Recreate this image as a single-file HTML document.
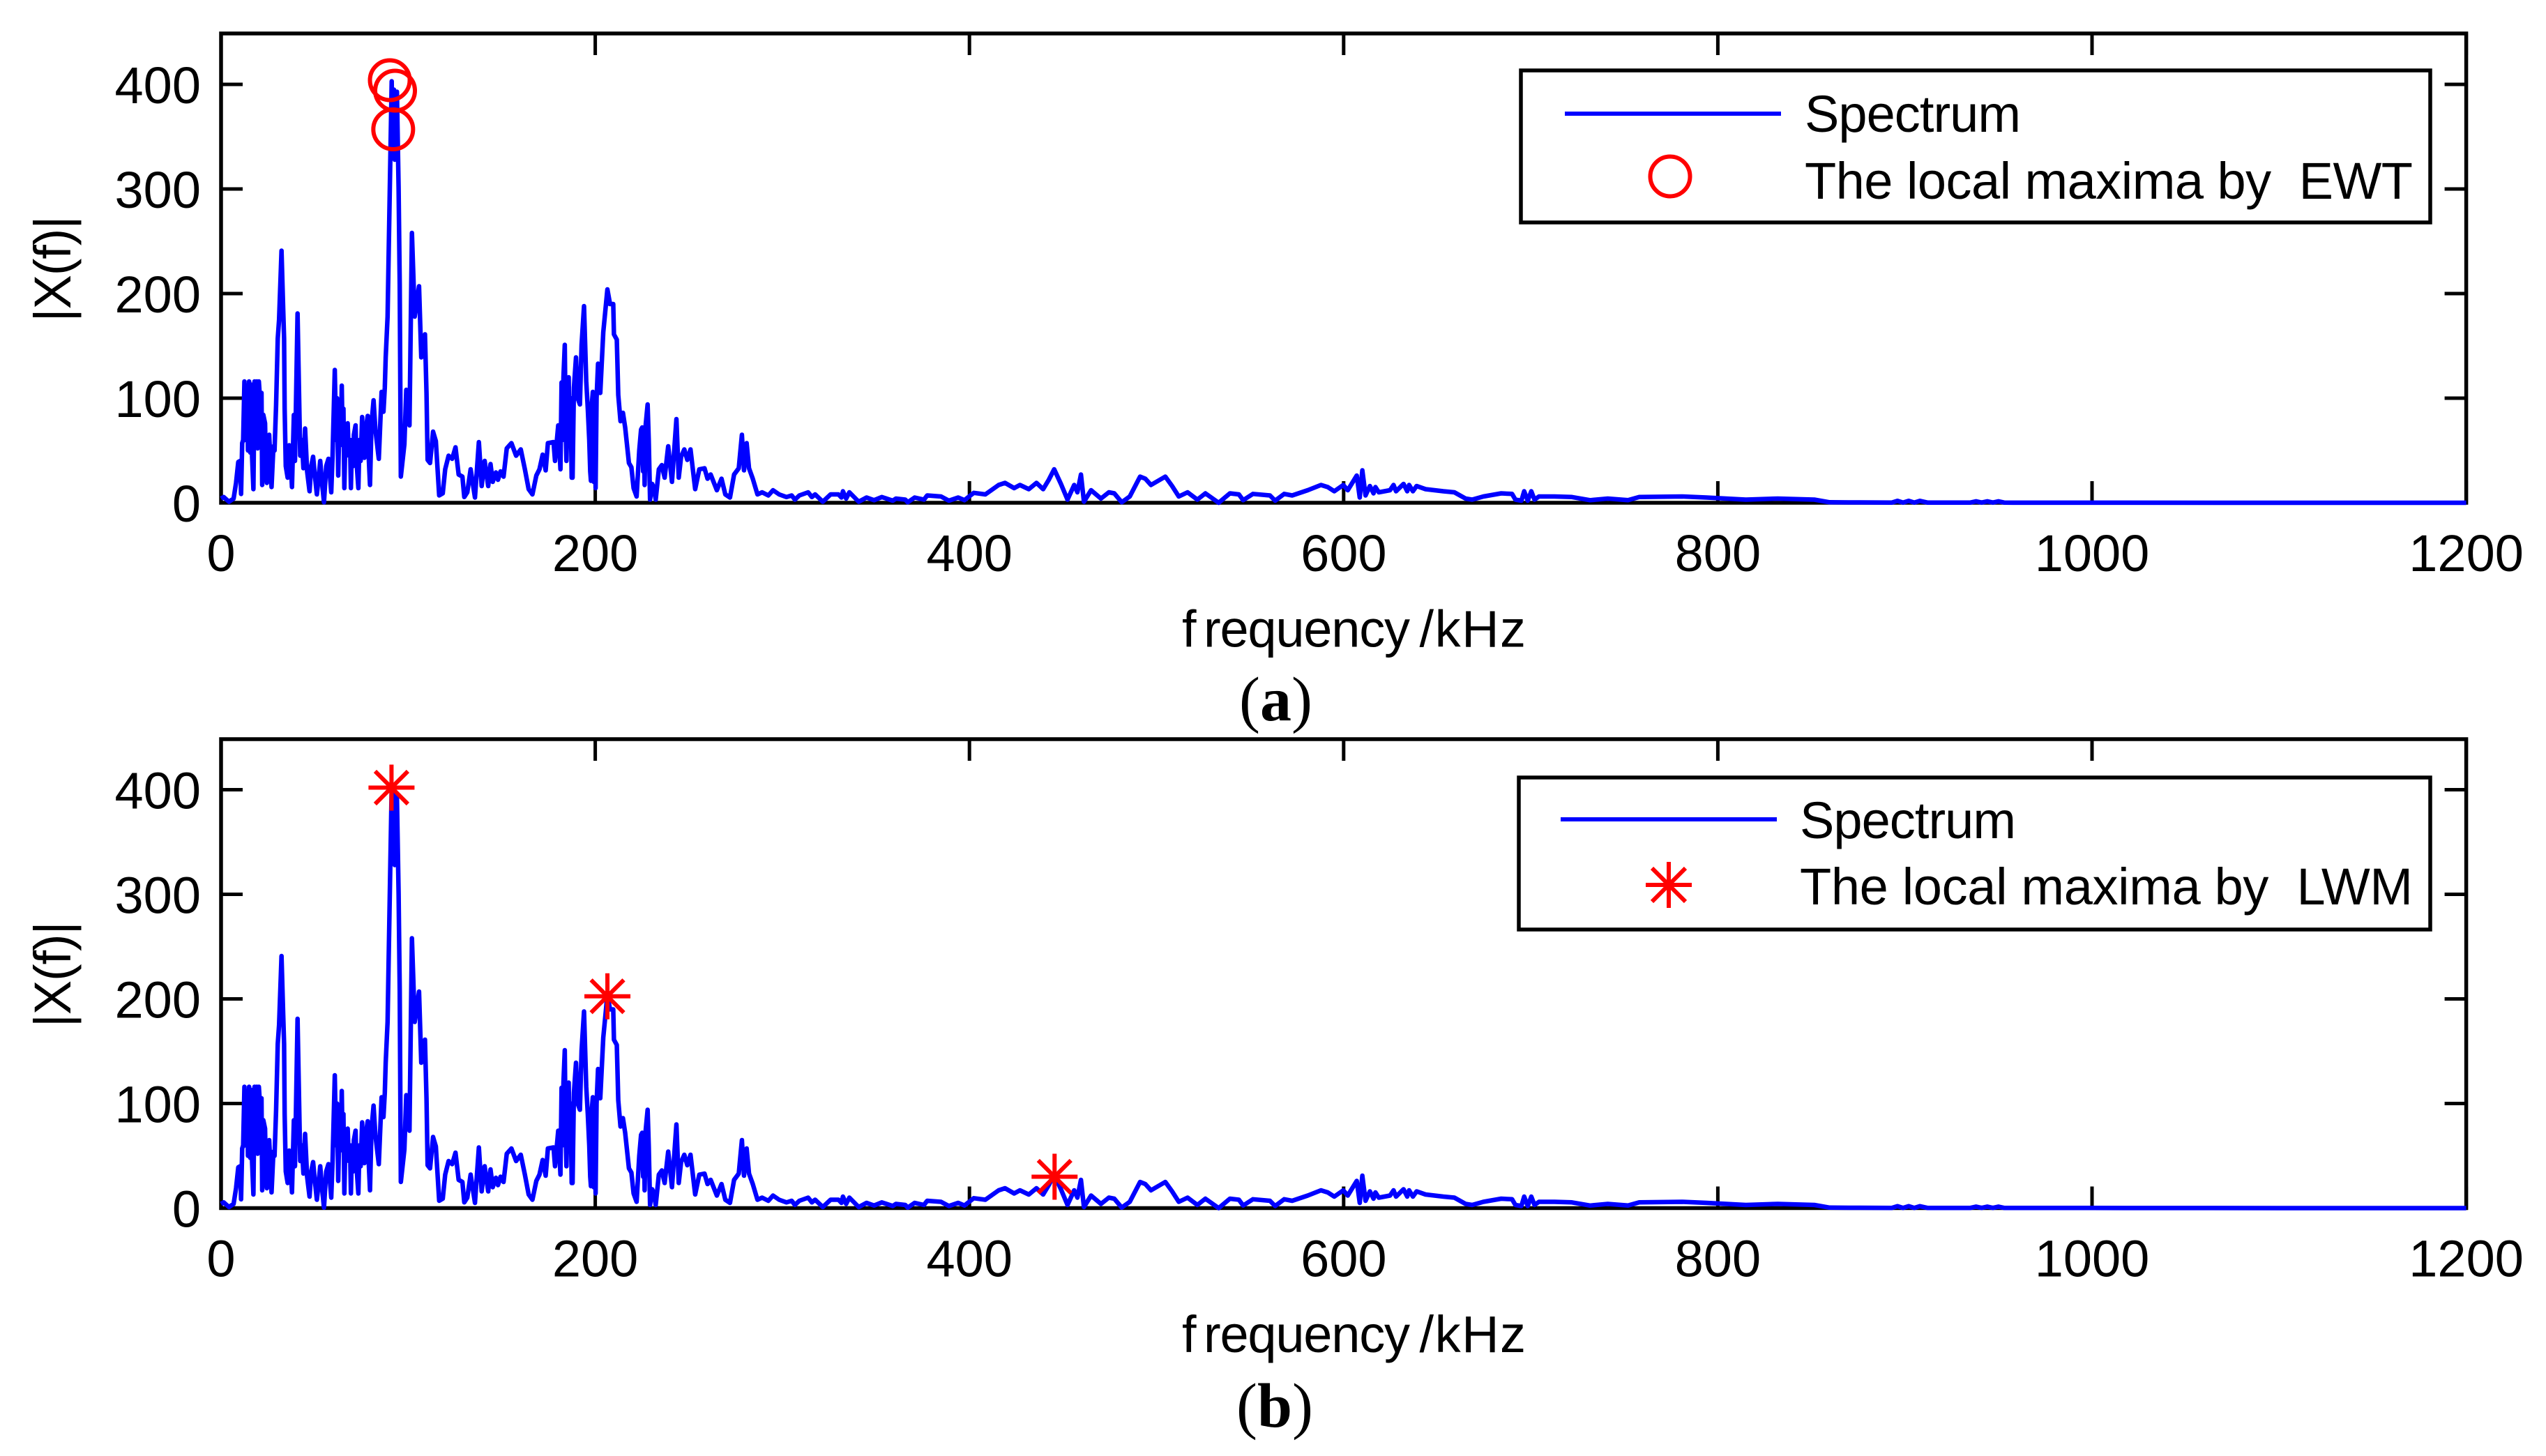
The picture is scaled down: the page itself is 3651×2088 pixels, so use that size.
<!DOCTYPE html>
<html lang="en">
<head>
<meta charset="utf-8">
<title>Spectrum local maxima: EWT and LWM</title>
<style>
html,body{margin:0;padding:0;background:#fff;width:3651px;height:2088px;overflow:hidden}
svg{display:block}
text{font-family:"Liberation Sans",Arial,sans-serif;fill:#000;white-space:pre}
.cap{font-family:"Liberation Serif","Times New Roman",serif}
</style>
</head>
<body>
<svg id="chart" xmlns="http://www.w3.org/2000/svg" width="3651" height="2088" viewBox="0 0 3651 2088">
<rect x="0" y="0" width="3651" height="2088" fill="#fff"/>
<g id="panel-a"></g>
<g id="panel-b"></g>

<text class="cap" x="1777" y="1033" font-size="90">(<tspan font-weight="bold">a</tspan>)</text>
<text class="cap" x="1773" y="2046" font-size="90">(<tspan font-weight="bold">b</tspan>)</text>

<g>
  <rect x="2181" y="101" width="1304" height="218" fill="#fff" stroke="#000" stroke-width="5.5"/>
  <line x1="2244" y1="163" x2="2554" y2="163" stroke="#00f" stroke-width="6"/>
  <text x="2588" y="189" font-size="74" textLength="310">Spectrum</text>
  <circle cx="2395" cy="253" r="28.5" fill="none" stroke="#f00" stroke-width="6"/>
  <text x="2588" y="285" font-size="74" textLength="872">The local maxima by  EWT</text>
</g>
<g>
  <rect x="2178" y="1115" width="1307" height="218" fill="#fff" stroke="#000" stroke-width="5.5"/>
  <line x1="2238" y1="1175" x2="2548" y2="1175" stroke="#00f" stroke-width="6"/>
  <text x="2581" y="1202" font-size="74" textLength="310">Spectrum</text>
  <g stroke="#f00" stroke-width="6">
    <line x1="2393" y1="1236" x2="2393" y2="1302"/>
    <line x1="2360" y1="1269" x2="2426" y2="1269"/>
    <line x1="2369" y1="1245" x2="2417" y2="1293"/>
    <line x1="2369" y1="1293" x2="2417" y2="1245"/>
  </g>
  <text x="2581" y="1297" font-size="74" textLength="879">The local maxima by  LWM</text>
</g>
</svg>
<script>
// Chart data
const xTicks = [0, 200, 400, 600, 800, 1000, 1200];
const yTicks = [0, 100, 200, 300, 400];
const xAxisTitle = "frequency /kHz";
const yAxisTitle = "|X(f)|";

// EWT local maxima (panel a)
const ewtFreq = [90.2, 93, 92];
const ewtVal = [404, 394, 357];

// LWM local maxima (panel b)
const lwmFreq = [91.1, 206.5, 445.5];
const lwmVal = [402, 202.5, 30];

// Spectrum: frequency in kHz
const spectrumFreq = [
0,1.4,4.2,6.7,8,9.2,10.2,10.7,11.3,11.8,
12.5,13.2,13.8,14.4,15,15.6,16.1,16.6,17.3,17.9,
18.5,19.1,19.6,20.2,20.8,21.6,22,22.6,23.5,24,
24.5,25,25.7,26.4,27,28,28.6,29.4,30.3,31,
32.3,33.2,33.7,34,34.6,35.6,36.4,37.2,37.9,38.9,
39.5,40.9,42.3,43.2,44,44.9,46,47.3,48.2,49.2,
50.2,51.2,52.2,53,54.2,55,56.2,57.4,58.2,58.9,
59.6,60.8,61.5,62,62.6,63.3,64,64.5,65,65.4,
65.9,66.5,67,67.7,68.3,68.9,69.4,70,70.5,71,
71.9,72.4,73.4,74,74.6,75.4,76,76.6,77.3,78.4,
79,79.6,80.4,81.5,82.5,84.3,85.8,86.8,87.5,88,
89,90,91.2,91.8,92.4,92.8,93.4,94,94.9,95.5,
96.1,98,99,100.7,102,103.5,105.8,107,109,109.8,
110.4,111.7,113.3,114.8,116.6,118.5,119.8,121.6,123.5,125.3,
127,129,130,131.6,133.4,135.7,137.8,139.3,140.9,142.8,
144,145.2,146.9,148,149.4,151,152.7,155.2,157.7,160.2,
162.4,164.4,166.4,168.5,170.2,171.9,173.5,174.7,177.7,178.5,
180.2,181.4,182,182.5,183,183.7,184.2,184.6,185.2,185.8,
186.3,186.8,187.4,187.9,188.6,189.7,190.6,191.8,192.7,194,
195.2,196,196.8,197.3,197.7,198.2,198.7,199.2,199.7,200.2,
200.7,201.5,202.7,204.3,206.5,207.9,209.6,210,211.5,212.3,
213.5,214.8,216,218,219.3,220.5,222.1,223.5,224.5,225.1,
225.6,226,226.4,227,228,228.6,229.3,230.4,231.2,232.3,
234,235.6,237.1,239,241,243.4,244.6,245.9,247.6,249.2,
250.9,253.4,255.6,258.4,260,261.7,265,267.5,269.5,272,
274.2,276.7,278.4,279.5,280.9,282.2,284.2,286.7,289.2,292.5,
295,298.3,302.2,305,306.7,309.1,313.8,315.8,317.5,321.6,
325.8,330,331.6,332.4,334.1,335.8,340.8,345,349,353.2,
359,360.7,365.7,367,370.7,375.7,377.4,384.8,389,394,
397.3,402.3,408.5,415.6,419,423.9,427,431.7,435.8,439.4,
442.4,445.3,448.9,452.4,456,457.7,459.6,461.2,465,470.3,
474.5,477.4,481.4,485.7,491.2,494,497,504.7,508.3,511.9,
516.6,521.8,526.1,533.2,539.2,544,546.3,551.5,560.6,563.4,
568.2,572.5,580.8,587.9,591.5,595,599.8,602.2,607,608.6,
610,611.7,614,616,617,618.8,624.8,626.7,628,632,
634,635,637,639,643.8,653.3,659.2,665.2,668.7,674.7,
684.2,690,691.8,695,696.5,698.4,700.3,702,704.4,712.7,
722,731.7,741.2,752,758,781,794,815,832,851.6,
859.7,870,893,896,899,902,905,908,912,935,
938,941,944,947,950,953,958,1000,1100,1200
];

// Spectrum: magnitude |X(f)|
const spectrumVal = [
4,5.5,1,4,19,39,40,8.4,57,60,
116,60,112,50,116,48,113,44,13,116,
55,116,52,116,100,105,17,84,76,30,
19,60,65,40,15,54,50,93,157,175,
241,185,157,90,35,24,55,40,15,84,
40,181,45,60,33,71,30,11,35,44,
25,8,25,40,15,0.5,35,42,25,10,
45,127,60,100,26,80,60,112,55,90,
14,65,50,76,45,60,14,60,35,65,
74,40,14,60,40,82,50,43,70,83,
40,17,75,98,70,42,106,87,110,139,
178,282,403,330,395,328,390,393,301,209,
25,56,108,74,258,178,207,139,161,105,
41,38,68,59,7,9,32,45,42,53,
27,25,5.5,10,32,5,58,16,40,16,
37,20,29,22,30,25,52,57,45,51,
32,13,8,26,32,46,31,57,58,40,
74,32,115,60,120,151,70,40,90,120,
70,100,24,24,110,139,100,94,151,188,
116,90,60,30,21,95,106,20,100,14,
100,133,105,163,204,190,190,161,156,103,
78,86,72,38,34,14,6,50,70,72,
30,72,17,75,94,60,3,18,15,3,
32,36,24,54,20,80,24,44,51,41,
51,13,32,33,23,27,12,23,8,5,
27,33,65,31,57,33,23,8,10,7,
12,8,5.5,7,3,7,10,5.5,8,1,
8,8,5,11,4,10,1,5,2.5,5.5,
2,4,3,0.5,5,3,7,6,2,5,
2.5,9.5,8,17,19,14,17,13,19,13,
22,32,18,3,17,10,27,1,12,4,
10,9,0.5,6,25,23,17,25,16,6,
10,3,9,0,9,8,2.5,8.5,7,2,
8.5,7,12,17,15,11,17,12,26,5,
31,7,16,9,15,10,12,17,11,18,
11,17,11,16,13,11,10,4,3,6,
9,8.5,3,2,11,2,11,3,6,6,
5.5,2.5,4,2.5,5.5,6,5,3,4,3,
0.5,0.3,0.2,1.8,0.2,1.8,0.2,1.8,0.2,0.2,
1.4,0.2,1.4,0.2,1.4,0.2,0.1,0.1,0,0
];

const SVG_NS = "http://www.w3.org/2000/svg";
const xLeft = 317, xRight = 3536.6, fMax = 1200;
function xScale(f) { return xLeft + (f / fMax) * (xRight - xLeft); }
function yScale(v, y0) { return y0 - v * 1.5; }

function make(tag, attrs, parent) {
  const el = document.createElementNS(SVG_NS, tag);
  for (const k in attrs) el.setAttribute(k, attrs[k]);
  parent.appendChild(el);
  return el;
}

function drawPanel(parent, y0, yTop, labelOffset) {
  const frame = make("rect", { x: xLeft, y: yTop, width: xRight - xLeft, height: y0 - yTop, fill: "#fff", stroke: "#000", "stroke-width": 5.5 }, parent);
  
  

  xTicks.forEach(function (t) {
    const x = xScale(t);
    const bottom = make("line", { x1: x, x2: x, y1: y0, y2: y0 - 31, stroke: "#000", "stroke-width": 5 }, parent);
    
    
    const top = make("line", { x1: x, x2: x, y1: yTop, y2: yTop + 31, stroke: "#000", "stroke-width": 5 }, parent);
    
    
    const label = make("text", { x: x, y: y0 + labelOffset, "font-size": 74, "text-anchor": "middle" }, parent);
    
    
    label.textContent = String(t);
  });

  yTicks.forEach(function (t) {
    const y = yScale(t, y0);
    const left = make("line", { x1: xLeft, x2: xLeft + 31, y1: y, y2: y, stroke: "#000", "stroke-width": 5 }, parent);
    
    
    const right = make("line", { x1: xRight, x2: xRight - 31, y1: y, y2: y, stroke: "#000", "stroke-width": 5 }, parent);
    
    
    const label = make("text", { x: 288, y: y + 27, "font-size": 74, "text-anchor": "end" }, parent);
    
    
    label.textContent = String(t);
  });

  const xt = make("text", { y: y0 + 206.5, "font-size": 74 }, parent);
  
  
  const partF = make("tspan", { x: 1695 }, xt);
  partF.textContent = xAxisTitle.slice(0, 1);
  const partWord = make("tspan", { x: 1726, "letter-spacing": "-1.2" }, xt);
  partWord.textContent = xAxisTitle.slice(1, 9);
  const partUnit = make("tspan", { x: 2013.5, "letter-spacing": "1.5" }, xt);
  partUnit.textContent = xAxisTitle.slice(9);

  const yc = (y0 + yTop) / 2 + 1;
  const yt = make("text", { x: 0, y: 0, "font-size": 74, "text-anchor": "middle", textLength: 152, transform: "translate(101," + yc + ") rotate(-90)" }, parent);
  
  
  yt.textContent = yAxisTitle;

  let d = "";
  spectrumFreq.forEach(function (f, i) {
    d += (i ? "L" : "M") + xScale(f).toFixed(1) + " " + yScale(spectrumVal[i], y0).toFixed(1);
  });
  const line = make("path", { d: d, fill: "none", stroke: "#00f", "stroke-width": 6.5, "stroke-linejoin": "round" }, parent);
  
  
}

const panelA = document.getElementById("panel-a");
const panelB = document.getElementById("panel-b");
const yZeroA = 721, yTopA = 48;
const yZeroB = 1732.5, yTopB = 1060;

drawPanel(panelA, yZeroA, yTopA, 98);
drawPanel(panelB, yZeroB, yTopB, 98);

ewtFreq.forEach(function (f, i) {
  const c = make("circle", { cx: xScale(f), cy: yScale(ewtVal[i], yZeroA), r: 28.5, fill: "none", stroke: "#f00", "stroke-width": 6 }, panelA);
  
  
});

lwmFreq.forEach(function (f, i) {
  const cx = xScale(f), cy = yScale(lwmVal[i], yZeroB);
  const g = make("g", { stroke: "#f00", "stroke-width": 6 }, panelB);
  
  
  make("line", { x1: cx, x2: cx, y1: cy - 33, y2: cy + 33 }, g);
  make("line", { x1: cx - 33, x2: cx + 33, y1: cy, y2: cy }, g);
  make("line", { x1: cx - 23.5, x2: cx + 23.5, y1: cy - 23.5, y2: cy + 23.5 }, g);
  make("line", { x1: cx - 23.5, x2: cx + 23.5, y1: cy + 23.5, y2: cy - 23.5 }, g);
});
</script>
</body>
</html>
